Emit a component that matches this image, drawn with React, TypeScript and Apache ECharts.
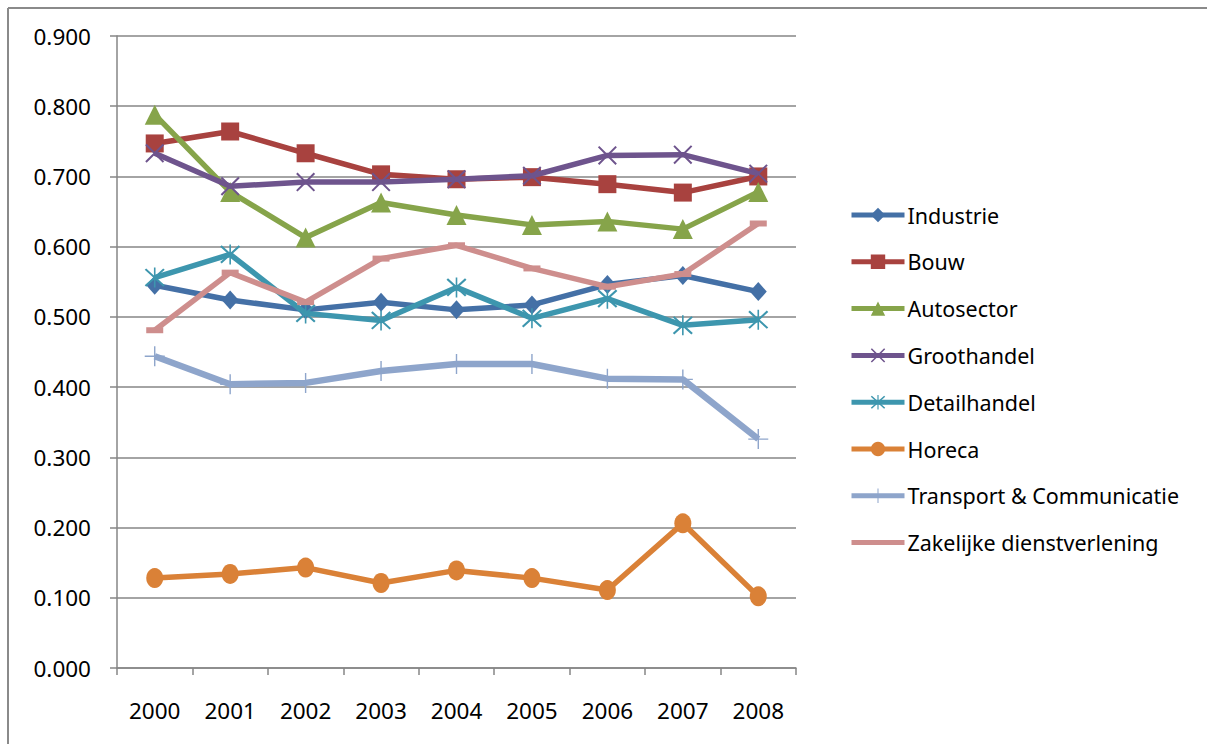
import React, { useEffect, useRef } from "react";
import * as echarts from "echarts";

const years = ["2000", "2001", "2002", "2003", "2004", "2005", "2006", "2007", "2008"];
const industrie = [0.545, 0.524, 0.510, 0.521, 0.510, 0.517, 0.546, 0.559, 0.536];
const bouw = [0.747, 0.764, 0.733, 0.703, 0.696, 0.699, 0.689, 0.677, 0.700];
const autosector = [0.788, 0.678, 0.613, 0.663, 0.645, 0.631, 0.636, 0.625, 0.678];
const groothandel = [0.733, 0.686, 0.692, 0.692, 0.696, 0.701, 0.730, 0.731, 0.704];
const detailhandel = [0.556, 0.589, 0.505, 0.495, 0.542, 0.498, 0.526, 0.488, 0.496];
const horeca = [0.128, 0.134, 0.143, 0.121, 0.139, 0.128, 0.111, 0.206, 0.102];
const transport = [0.444, 0.404, 0.406, 0.423, 0.433, 0.433, 0.412, 0.411, 0.326];
const zakelijke = [0.481, 0.563, 0.521, 0.583, 0.602, 0.569, 0.543, 0.561, 0.633];
const yTicks = [0, 0.9, 0.1];

const seriesNames = [
  "Industrie",
  "Bouw",
  "Autosector",
  "Groothandel",
  "Detailhandel",
  "Horeca",
  "Transport & Communicatie",
  "Zakelijke dienstverlening",
];
const seriesData = [industrie, bouw, autosector, groothandel, detailhandel, horeca, transport, zakelijke];
const colors = ["#4470A6", "#A8423F", "#86A44A", "#6E548D", "#3D96AE", "#DA8137", "#8EA5CB", "#CE8E8D"];

const X_PATH =
  "path://M0,1.5 L1.5,0 L10,8.5 L18.5,0 L20,1.5 L11.5,10 L20,18.5 L18.5,20 L10,11.5 L1.5,20 L0,18.5 L8.5,10 Z";
const STAR_PATH =
  "path://M0,1.5 L1.5,0 L10,8.5 L18.5,0 L20,1.5 L11.5,10 L20,18.5 L18.5,20 L10,11.5 L1.5,20 L0,18.5 L8.5,10 Z M9.2,-1 L10.8,-1 L10.8,21 L9.2,21 Z";
const PLUS_PATH =
  "path://M9.3,0 L10.7,0 L10.7,9.3 L20,9.3 L20,10.7 L10.7,10.7 L10.7,20 L9.3,20 L9.3,10.7 L0,10.7 L0,9.3 L9.3,9.3 Z";
const DASH_PATH = "path://M0,0 L20,0 L20,6 L0,6 Z";
const BAR_ICON = "path://M0,0 L53,0 L53,5 L0,5 Z";

const symbols: any[] = ["diamond", "rect", "triangle", X_PATH, STAR_PATH, "circle", PLUS_PATH, DASH_PATH];
const symbolSizes: any[] = [[17, 19], 18, 20, 19, 20, [17, 20], 20, [17, 6]];
const lineWidths = [5.5, 5.5, 5.5, 5.5, 5.5, 5.5, 6.5, 5.5];

const FONT = "Noto Sans";

export default function App() {
  const ref = useRef<HTMLDivElement>(null);
  useEffect(() => {
    if (!ref.current) return;
    const chart = echarts.init(ref.current, undefined, { renderer: "svg" });
    const option: any = {
      animation: false,
      backgroundColor: "#ffffff",
      textStyle: { fontFamily: FONT },
      grid: { left: 117, top: 36, width: 679, height: 632, containLabel: false },
      legend: {
        orient: "vertical",
        left: 844,
        top: 199,
        itemWidth: 53,
        itemHeight: 18,
        itemGap: 24.8,
        symbolKeepAspect: true,
        lineStyle: { width: 5 },
        textStyle: { fontFamily: FONT, fontSize: 21.5, color: "#000", padding: [0, 0, 0, -2] },
        data: seriesNames.map((name, i) =>
          i === seriesNames.length - 1 ? { name, icon: BAR_ICON } : { name }
        ),
      },
      xAxis: {
        type: "category",
        data: years,
        boundaryGap: true,
        axisLine: { show: true, lineStyle: { color: "#868686", width: 1.5 } },
        axisTick: { show: true, length: 7, alignWithLabel: false, lineStyle: { color: "#868686", width: 1.5 } },
        axisLabel: { margin: 31, fontFamily: FONT, fontSize: 22.5, color: "#000" },
        splitLine: { show: false },
      },
      yAxis: {
        type: "value",
        min: yTicks[0],
        max: yTicks[1],
        interval: yTicks[2],
        axisLine: { show: true, lineStyle: { color: "#868686", width: 1.5 } },
        axisTick: { show: true, length: 7, lineStyle: { color: "#868686", width: 1.5 } },
        axisLabel: {
          margin: 26,
          fontFamily: FONT,
          fontSize: 22.5,
          color: "#000",
          formatter: (v: number) => v.toFixed(3),
        },
        splitLine: { show: true, lineStyle: { color: "#868686", width: 1.5 } },
      },
      series: seriesNames.map((name, i) => ({
        name,
        type: "line",
        data: seriesData[i],
        symbol: symbols[i],
        symbolSize: symbolSizes[i],
        showAllSymbol: true,
        lineStyle: { color: colors[i], width: lineWidths[i] },
        itemStyle: { color: colors[i], borderWidth: 0 },
        emphasis: { disabled: true },
        z: 2 + i,
      })),
      graphic: [
        {
          type: "line",
          shape: { x1: 8, y1: 8, x2: 1207, y2: 8 },
          style: { stroke: "#8a8a8a", lineWidth: 2 },
          silent: true,
        },
        {
          type: "line",
          shape: { x1: 8, y1: 8, x2: 8, y2: 744 },
          style: { stroke: "#8a8a8a", lineWidth: 2 },
          silent: true,
        },
      ],
    };
    chart.setOption(option);
    return () => chart.dispose();
  }, []);
  return (
    <div
      ref={ref}
      style={{ position: "absolute", left: 0, top: 0, width: 1207, height: 744, background: "#fff" }}
    />
  );
}
